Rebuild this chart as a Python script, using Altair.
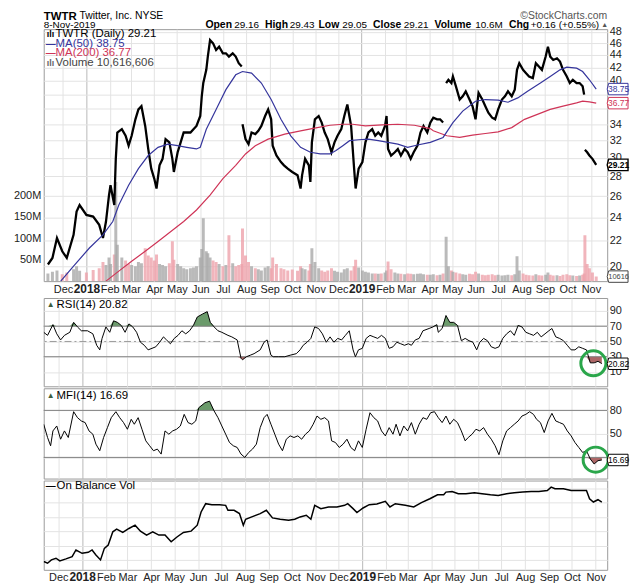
import altair as alt
import numpy as np
import pandas as pd

FONT = "Liberation Sans"
W = 568
H_MAIN, H_RSI, H_MFI, H_OBV = 254, 89, 91, 90
BASE = pd.Timestamp("2018-01-01")

# ---------------- data (x = days since 2018-01-01) ----------------
price_day_a = [-51, -45, -39, -32, -26, -17, -13, -9, 0, 9, 17, 22, 26, 30, 32, 37,
               39, 41, 47, 52, 56, 60, 65, 69, 73, 78, 82, 86, 90, 93, 97, 101,
               105, 110, 114, 116, 121, 125, 129, 133, 138, 142, 146, 151, 153, 155, 159, 161,
               164, 168, 172, 176, 181, 185, 189, 194, 198, 202, 206]
close_a = [20.15, 20.65, 22.24, 21.17, 20.65, 22.51, 24.54, 25.15, 24.24, 24.09, 23.36, 22.24, 23.65, 26.10, 27.08, 25.15,
           29.88, 32.96, 33.37, 32.56, 31.38, 32.56, 34.62, 35.92, 36.36, 33.78, 31.00, 28.80, 27.76, 26.75, 29.16, 29.88,
           32.16, 31.77, 29.88, 28.45, 30.62, 31.77, 32.96, 32.96, 32.96, 33.37, 33.78, 35.05, 37.73, 39.63, 41.63, 43.74,
           46.52, 45.95, 44.83, 45.38, 44.28, 44.28, 43.74, 44.28, 43.74, 42.67, 42.15]
vol_a = [18, 22, 25, 16, 20, 28, 35, 24, 20, 26, 30, 45, 38, 55, 40, 62,
         232, 85, 55, 48, 40, 38, 35, 45, 42, 77, 60, 55, 48, 62, 40, 38,
         35, 42, 93, 50, 40, 35, 30, 28, 30, 32, 35, 55, 75, 147, 70, 65,
         55, 48, 45, 40, 35, 38, 107, 42, 35, 38, 40]

price_day_b = [207, 211, 215, 219, 224, 228, 232, 237, 241, 245, 247, 252, 258, 262, 267, 273,
               280, 284, 286, 290, 295, 297, 299, 303, 308, 312, 316, 320, 325, 329, 333, 338,
               342, 346, 351, 355, 357, 361, 366, 370, 374, 379, 383, 387, 391, 396, 398, 400,
               404, 409, 413, 417, 422, 426, 430, 434, 439, 443, 447, 452]
close_b = [34.0, 32.16, 31.57, 32.96, 32.76, 33.17, 33.78, 35.05, 35.92, 34.62, 31.38, 30.25, 29.52, 29.16, 28.80, 28.45,
           28.10, 26.75, 28.10, 29.88, 29.16, 27.42, 31.77, 34.62, 35.05, 34.20, 32.96, 32.16, 30.62, 31.77, 32.56, 33.37,
           35.05, 36.59, 33.78, 28.80, 26.75, 28.80, 29.52, 31.77, 32.96, 33.37, 32.56, 32.96, 32.56, 33.78, 35.05, 31.00,
           30.25, 30.62, 31.00, 30.25, 31.00, 30.62, 29.88, 30.62, 31.38, 32.96, 33.78, 32.96]
vol_b = [123, 60, 45, 35, 30, 28, 25, 32, 35, 30, 55, 40, 30, 28, 25, 27,
         24, 35, 30, 28, 25, 40, 77, 45, 30, 25, 22, 25, 30, 24, 22, 20,
         28, 30, 25, 35, 50, 32, 25, 22, 20, 18, 18, 17, 18, 20, 25, 46,
         28, 20, 18, 17, 16, 18, 17, 16, 17, 18, 16, 15]

price_day_c = [456, 460, 465, 469, 473, 477, 480, 484, 486, 490, 495, 499, 503, 508, 512, 516,
               520, 525, 529, 533, 538, 542, 546, 551, 555, 559, 564, 568, 571, 574, 579, 583,
               587, 592, 596, 600, 604, 609, 612, 615, 619, 624, 628, 632, 637, 641, 645, 650,
               654, 658, 660, 661, 664, 667, 671, 676]
close_c = [34.2, 34.84, 34.62, 34.62, 34.20, 39.63, 40.12, 39.63, 40.62, 39.15, 37.27, 37.73, 38.43, 37.27, 36.36, 34.62,
           38.20, 37.27, 36.36, 35.48, 34.84, 34.62, 35.92, 37.27, 37.73, 38.43, 37.73, 38.67, 41.63, 42.67, 41.63, 41.12,
           40.62, 40.37, 42.67, 42.15, 41.63, 43.74, 45.38, 43.74, 43.20, 43.47, 42.94, 41.63, 40.62, 39.63, 40.12, 39.63,
           39.63, 39.15, 37.96, 30.9, 30.62, 30.25, 29.88, 29.21]
vol_c = [15, 16, 14, 15, 18, 104, 35, 25, 22, 20, 18, 16, 15, 17, 16, 22,
         18, 15, 14, 15, 16, 14, 15, 13, 14, 15, 14, 16, 58, 25, 18, 15,
         14, 13, 16, 14, 13, 15, 20, 15, 13, 14, 12, 15, 16, 14, 13, 12,
         13, 15, 18, 107, 40, 30, 20, 10.6]

# earnings-day price gaps (the price line is broken there)
gap_days = [207, 477, 661]

ma50_day = [-34, -17, 4, 22, 35, 43, 56, 69, 82, 95, 108, 121, 133, 146, 151, 159,
            172, 185, 198, 207, 219, 232, 245, 258, 271, 284, 297, 310, 323, 331, 340, 349,
            361, 374, 387, 400, 413, 426, 439, 456, 473, 486, 499, 516, 529, 546, 559, 572,
            585, 602, 615, 628, 637, 650, 658, 667, 676]
ma50_val = [18.94, 20.03, 21.43, 22.51, 23.65, 25.15, 27.08, 28.80, 30.25, 31.19, 31.57, 31.38, 31.19, 31.00, 31.19, 33.37,
            35.92, 38.67, 40.87, 41.37, 41.12, 39.63, 37.27, 34.62, 32.56, 31.19, 30.62, 30.43, 30.43, 30.81, 31.38, 31.97,
            32.08, 32.16, 31.97, 31.77, 31.57, 31.19, 31.46, 31.77, 32.36, 34.20, 35.70, 37.04, 37.27, 37.18, 36.90, 37.50,
            38.43, 39.63, 40.62, 41.63, 42.04, 41.90, 41.37, 40.12, 38.75]

ma200_day = [26, 43, 60, 78, 95, 112, 129, 146, 164, 181, 198, 211, 224, 241, 263, 284,
             306, 323, 340, 353, 370, 392, 413, 435, 456, 460, 478, 495, 512, 529, 546, 564,
             581, 598, 615, 632, 650, 658, 667, 676]
ma200_val = [18.94, 19.66, 20.40, 21.17, 21.96, 22.79, 23.65, 24.69, 26.10, 27.76, 29.16, 30.43, 31.38, 32.16, 32.76, 33.17,
             33.57, 33.86, 33.99, 33.99, 33.78, 33.90, 33.99, 33.86, 33.45, 33.17, 32.56, 32.36, 32.64, 32.84, 33.04, 33.57,
             34.62, 35.27, 35.92, 36.36, 36.80, 37.04, 36.94, 36.77]

rsi_day = [-50, -45, -38, -33, -28, -23, -16, -11, -6, -1, 7, 14, 19, 23, 26, 31, 36, 41, 46, 51,
           56, 61, 66, 71, 76, 81, 86, 91, 96, 101, 106, 110, 115, 120, 125, 130, 135, 140, 145, 150,
           157, 163, 167, 172, 177, 182, 190, 195, 202, 207, 209, 214, 219, 224, 232, 237, 241, 246, 249, 256,
           264, 271, 279, 284, 288, 293, 298, 303, 308, 313, 318, 323, 328, 333, 338, 343, 348, 353, 356, 360,
           365, 370, 375, 380, 385, 390, 395, 400, 405, 410, 415, 420, 425, 429, 434, 439, 444, 452, 457, 462,
           464, 469, 474, 479, 484, 489, 494, 499, 504, 509, 514, 518, 523, 528, 533, 538, 543, 548, 553, 558,
           563, 568, 573, 578, 583, 588, 593, 598, 603, 608, 612, 617, 622, 627, 632, 637, 642, 647, 652, 657,
           662, 667, 672, 677]
rsi_val = [62, 58, 72, 60, 52, 58, 62, 75, 69, 64, 64, 60, 45, 39, 54, 69, 62, 77, 75, 71,
           62, 73, 69, 62, 49, 45, 39, 41, 43, 49, 56, 52, 47, 54, 58, 64, 60, 64, 71, 82,
           86, 89, 75, 69, 64, 62, 58, 56, 52, 28, 26, 30, 32, 34, 39, 49, 52, 32, 30, 30,
           30, 32, 34, 39, 45, 49, 54, 69, 67, 60, 49, 56, 49, 54, 52, 58, 64, 39, 30, 39,
           41, 54, 58, 56, 54, 58, 54, 41, 43, 49, 47, 45, 47, 45, 52, 54, 64, 67, 69, 72,
           62, 67, 84, 75, 75, 71, 51, 54, 51, 49, 39, 49, 54, 51, 43, 41, 43, 54, 60, 64,
           58, 71, 69, 62, 60, 58, 62, 56, 60, 64, 67, 56, 54, 51, 45, 39, 39, 43, 41, 39,
           22, 22, 24, 21]
rsi_levels = [70, 30]
rsi_mid = [50]
rsi_last = 20.82
rsi_ring_day, rsi_ring_val = [666], [21.4]

mfi_day = [-50, -45, -41, -38, -33, -28, -23, -18, -11, -6, -1, 4, 9, 14, 18, 23, 28, 33, 38, 44,
           49, 54, 59, 64, 68, 73, 78, 83, 88, 93, 98, 103, 108, 113, 118, 123, 128, 133, 138, 143,
           148, 152, 160, 166, 172, 177, 182, 187, 192, 197, 202, 207, 212, 217, 222, 227, 232, 237, 241, 246,
           251, 256, 261, 266, 271, 276, 281, 286, 291, 296, 301, 306, 311, 316, 321, 325, 330, 335, 340, 345,
           350, 355, 360, 365, 370, 375, 380, 385, 390, 395, 400, 405, 409, 414, 419, 424, 429, 434, 439, 444,
           449, 454, 459, 464, 469, 474, 479, 484, 489, 494, 499, 503, 508, 513, 518, 523, 528, 533, 538, 543,
           548, 553, 558, 563, 568, 573, 578, 583, 588, 592, 597, 602, 607, 612, 617, 622, 627, 632, 637, 642,
           647, 652, 657, 662, 667, 672, 677]
mfi_val = [62.3, 45.4, 34.8, 53.8, 60.1, 43.2, 53.8, 45.4, 78.3, 70.7, 66.5, 64.4, 53.8, 49.6, 36.9, 28.5, 45.4, 58, 70.7, 78.3,
           70.7, 64.4, 55.9, 68.6, 62.3, 70.7, 55.9, 41.1, 34.8, 28.5, 30.6, 24.2, 53.8, 49.6, 53.8, 55.9, 60.1, 74.9, 64.4, 62.3,
           66.5, 83.4, 89.7, 91.8, 79.2, 70.7, 60.1, 49.6, 39, 34.8, 32.7, 24.2, 20, 26.3, 30.6, 36.9, 58, 70.7, 74.9, 62.3,
           49.6, 36.9, 28.5, 43.2, 47.5, 45.4, 47.5, 43.2, 49.6, 53.8, 62.3, 72.8, 68.6, 70.7, 66.5, 41.1, 39, 32.7, 36.9, 43.2,
           32.7, 28.5, 41.1, 32.7, 55.9, 77, 70.7, 66.5, 53.8, 47.5, 58, 49.6, 62.3, 47.5, 60.1, 53.8, 64.4, 49.6, 62.3, 70.7,
           68.6, 77, 78.3, 70.7, 64.4, 72.8, 62.3, 68.6, 64.4, 53.8, 41.1, 45.4, 49.6, 55.9, 53.8, 58, 49.6, 43.2, 34.8, 23.4,
           41.1, 53.8, 58, 62.3, 66.5, 72.8, 74.9, 78.3, 74.9, 68.6, 64.4, 51.7, 66.5, 76.2, 66.5, 64.4, 62.3, 53.8, 47.5, 39,
           32.7, 26.3, 28.5, 17.9, 11.6, 15.8, 16.7]
mfi_levels = [80, 20]
mfi_last = 16.69
mfi_ring_day, mfi_ring_val = [669], [17.1]

obv_day = [-50, -45, -40, -34, -29, -21, -13, -8, 0, 8, 13, 18, 24, 29, 34, 40, 45, 53, 61, 69,
           76, 84, 92, 100, 108, 116, 124, 132, 142, 150, 155, 161, 169, 179, 187, 190, 198, 205, 210, 213,
           221, 232, 240, 248, 258, 269, 277, 284, 292, 298, 303, 311, 321, 332, 342, 346, 353, 358, 366, 374,
           384, 395, 401, 408, 421, 432, 442, 453, 463, 471, 474, 482, 490, 500, 511, 521, 532, 542, 553, 563,
           574, 585, 595, 606, 611, 616, 627, 637, 648, 657, 661, 666, 672, 677]
obv_val = [120, 105, 135, 150, 126, 144, 165, 225, 195, 204, 225, 180, 135, 240, 270, 390, 414, 384, 420, 450,
           396, 360, 390, 360, 360, 300, 345, 384, 396, 450, 570, 645, 636, 636, 630, 585, 585, 555, 450, 504,
           525, 555, 585, 516, 504, 495, 504, 525, 540, 504, 630, 600, 615, 615, 630, 645, 600, 564, 606, 636,
           642, 666, 615, 645, 630, 615, 654, 690, 726, 726, 750, 756, 735, 735, 744, 735, 726, 720, 735, 744,
           750, 756, 756, 765, 795, 780, 780, 765, 765, 765, 690, 660, 681, 660]

price_ticks = list(range(20, 50, 2))
vol_ticks = [50, 100, 150, 200]
vol_last = 10.616606

# ---------------- frames ----------------
def dates(days):
    return [(BASE + pd.Timedelta(days=int(d))).strftime("%Y-%m-%d") for d in days]

all_days = price_day_a + price_day_b + price_day_c
price_df = pd.DataFrame({
    "date": dates(all_days),
    "close": close_a + close_b + close_c,
    "vol": vol_a + vol_b + vol_c,
})
price_df["dir"] = np.where(price_df["close"].diff().fillna(0) >= 0, "up", "down")
price_df["seg"] = np.cumsum([1 if d in gap_days else 0 for d in all_days])
ma50_df = pd.DataFrame({"date": dates(ma50_day), "v": ma50_val})
ma200_df = pd.DataFrame({"date": dates(ma200_day), "v": ma200_val})
rsi_df = pd.DataFrame({"date": dates(rsi_day), "v": rsi_val})
rsi_df["hi"] = rsi_df["v"].clip(lower=70)
rsi_df["lo"] = rsi_df["v"].clip(upper=30)
mfi_df = pd.DataFrame({"date": dates(mfi_day), "v": mfi_val})
mfi_df["hi"] = mfi_df["v"].clip(lower=80)
mfi_df["lo"] = mfi_df["v"].clip(upper=20)
obv_df = pd.DataFrame({"date": dates(obv_day), "v": obv_val})
ONE = pd.DataFrame({"k": [0]})

# ---------------- scales / axes ----------------
xscale = alt.Scale(domain=[alt.DateTime(year=2017, month=11, date=12),
                           alt.DateTime(year=2019, month=11, date=16)], nice=False)
month_ticks = [alt.DateTime(year=2017, month=12, date=1)] + \
    [alt.DateTime(year=2018, month=m, date=1) for m in range(1, 13)] + \
    [alt.DateTime(year=2019, month=m, date=1) for m in range(1, 12)]
IS_JAN = "month(datum.value) == 0"
GRID = "#e3e3e3"


def x_axis(show):
    kw = dict(values=month_ticks, grid=True, ticks=False, domain=False, title=None,
              gridColor={"condition": {"test": IS_JAN, "value": "#b8b8b8"}, "value": GRID})
    if show:
        kw.update(labels=True,
                  labelExpr="month(datum.value) == 0 ? timeFormat(datum.value, '%Y') : timeFormat(datum.value, '%b')",
                  labelFontWeight={"condition": {"test": IS_JAN, "value": "bold"}, "value": "normal"},
                  labelFontSize={"condition": {"test": IS_JAN, "value": 12}, "value": 11},
                  labelOverlap=False, labelFlush=False, labelPadding=2, labelColor="#222",
                  minExtent=15, maxExtent=15)
    else:
        kw.update(labels=False, minExtent=0, maxExtent=0)
    return alt.Axis(**kw)


X_LAB = alt.X("date:T", scale=xscale, axis=x_axis(True))
X_NOLAB = alt.X("date:T", scale=xscale, axis=x_axis(False))

BOX = "M -1 0 L -0.86 -0.55 L 1 -0.55 L 1 0.55 L -0.86 0.55 Z"
BOXW = 21


def txt(s, x, y, size=11, color="#000", weight="normal", align="left", baseline="alphabetic", font=FONT):
    return alt.Chart(ONE).mark_text(text=s, fontSize=size, color=color, fontWeight=weight, align=align,
                                    baseline=baseline, font=font).encode(x=alt.value(x), y=alt.value(y))


def value_box(value, label, color, scale, axis, bold=False, size=8.5, sw=1):
    d = pd.DataFrame({"v": [value], "t": [label]})
    y = alt.Y("v:Q", scale=scale, axis=axis)
    box = alt.Chart(d).mark_point(shape=BOX, size=BOXW * BOXW, filled=True, fill="white", stroke=color,
                                  strokeWidth=sw, opacity=1, fillOpacity=1).encode(x=alt.value(W + BOXW / 2), y=y)
    t = alt.Chart(d).mark_text(fontSize=size, color=color, fontWeight="bold" if bold else "normal",
                               font=FONT).encode(x=alt.value(W + BOXW / 2 + 1), y=y, text="t:N")
    return [box, t]


# ---------------- main panel ----------------
vol_scale = alt.Scale(domain=[0, 589], nice=False)
vol_axis = alt.Axis(orient="left", values=vol_ticks, labelExpr="datum.value + 'M'", grid=False, ticks=False,
                    domain=False, labelPadding=3, labelFontSize=11, labelColor="#222",
                    minExtent=35, maxExtent=35, title=None)
price_scale = alt.Scale(type="log", domain=[18.94, 48.45], nice=False)
price_axis = alt.Axis(orient="right", values=price_ticks, grid=True, gridColor=GRID, ticks=False, domain=False,
                      labelExpr="datum.value == 36 || datum.value == 38 ? '' : datum.label",
                      labelPadding=2, labelFontSize=11, labelColor="#222", labelOverlap=False, format="d", title=None)

NAVY = "#35359c"
CRIMSON = "#cf3457"

vol_bars = alt.Chart(price_df).mark_bar(width=3, clip=True, opacity=0.8).encode(
    x=X_LAB, y=alt.Y("vol:Q", scale=vol_scale, axis=vol_axis),
    color=alt.Color("dir:N", scale=alt.Scale(domain=["up", "down"], range=["#a9a9a9", "#eea3ab"]), legend=None))
vol_layer = alt.layer(vol_bars, *value_box(vol_last, "10616", "#444", vol_scale, vol_axis, size=7.5))

price_line = alt.Chart(price_df).mark_line(color="black", strokeWidth=2.3, clip=True).encode(
    x=X_LAB, y=alt.Y("close:Q", scale=price_scale, axis=price_axis), detail="seg:N")
ma200_line = alt.Chart(ma200_df).mark_line(color=CRIMSON, strokeWidth=1.2, clip=True).encode(
    x=X_LAB, y=alt.Y("v:Q", scale=price_scale, axis=price_axis))
ma50_line = alt.Chart(ma50_df).mark_line(color=NAVY, strokeWidth=1.2, clip=True).encode(
    x=X_LAB, y=alt.Y("v:Q", scale=price_scale, axis=price_axis))
price_layer = alt.layer(
    price_line, ma200_line, ma50_line,
    *value_box(ma50_val[-1], f"{ma50_val[-1]:.2f}", NAVY, price_scale, price_axis),
    *value_box(ma200_val[-1], f"{ma200_val[-1]:.2f}", CRIMSON, price_scale, price_axis),
    *value_box(close_c[-1], f"{close_c[-1]:.2f}", "#000", price_scale, price_axis, bold=True, sw=1.4),
)

hdr_y = -1.5
header = [
    txt("TWTR", 0, -18, 11.5, weight="bold", baseline="top"),
    txt("Twitter, Inc. NYSE", 36, -18, 10.5, baseline="top"),
    txt("\u00a9StockCharts.com", W, -18, 10.5, "#555", align="right", baseline="top"),
    txt("8-Nov-2019", 0, hdr_y, 10),
    txt("Open", 163, hdr_y, 10.5, weight="bold"), txt("29.16", 192, hdr_y, 10),
    txt("High", 223, hdr_y, 10.5, weight="bold"), txt("29.43", 248, hdr_y, 10),
    txt("Low", 277, hdr_y, 10.5, weight="bold"), txt("29.05", 301, hdr_y, 10),
    txt("Close", 332, hdr_y, 10.5, weight="bold"), txt("29.21", 363, hdr_y, 10),
    txt("Volume", 394, hdr_y, 10.5, weight="bold"), txt("10.6M", 435, hdr_y, 10),
    txt("Chg", 469, hdr_y, 10.5, weight="bold"), txt("+0.16 (+0.55%)", 491, hdr_y, 10),
    txt("\u25b2", 562, hdr_y - 1, 7, "#555"),
]
legend = [
    txt("\u0131l\u0131", 3, 5, 9, weight="bold", baseline="middle"),
    txt(f"TWTR (Daily) {close_c[-1]:.2f}", 12, 5, 11.5, baseline="middle"),
    txt("\u2014", 2, 14.7, 10, NAVY, "bold", baseline="middle"),
    txt(f"MA(50) {ma50_val[-1]:.2f}", 12, 14.7, 11.5, NAVY, baseline="middle"),
    txt("\u2014", 2, 24.3, 10, CRIMSON, "bold", baseline="middle"),
    txt(f"MA(200) {ma200_val[-1]:.2f}", 12, 24.3, 11.5, CRIMSON, baseline="middle"),
    txt("\u0131l\u0131", 3, 33.7, 9, "#666", "bold", baseline="middle"),
    txt("Volume 10,616,606", 12, 33.7, 11.5, "#444", baseline="middle"),
]
main = alt.layer(vol_layer, price_layer, *header, *legend).resolve_scale(y="independent").properties(
    width=W, height=H_MAIN)


# ---------------- oscillator panels ----------------
def oscillator(df, scale, axis, levels, mid, last, ring_day, ring_val, title, height, lo_lvl, hi_lvl):
    Y = lambda f: alt.Y(f, scale=scale, axis=axis)
    layers = [
        alt.Chart(df).mark_area(color="#6b9b6b", clip=True, opacity=1).encode(x=X_NOLAB, y=Y("hi:Q"), y2=alt.datum(hi_lvl)),
        alt.Chart(df).mark_area(color="#ad6767", clip=True, opacity=1).encode(x=X_NOLAB, y=Y("lo:Q"), y2=alt.datum(lo_lvl)),
        alt.Chart(pd.DataFrame({"lvl": levels})).mark_rule(color="#808080").encode(y=Y("lvl:Q")),
    ]
    if mid:
        layers.append(alt.Chart(pd.DataFrame({"lvl": mid})).mark_rule(color="#9a9a9a", strokeDash=[7, 3, 2, 3]).encode(y=Y("lvl:Q")))
    layers.append(alt.Chart(df).mark_line(color="black", strokeWidth=1, clip=True).encode(x=X_NOLAB, y=Y("v:Q")))
    ring = pd.DataFrame({"date": dates(ring_day), "v": ring_val})
    layers.append(alt.Chart(ring).mark_point(shape="circle", size=640, filled=False, stroke="#2aa64a",
                                              strokeWidth=3, opacity=1).encode(x=X_NOLAB, y=Y("v:Q")))
    layers += value_box(last, f"{last:.2f}", "#000", scale, axis)
    layers.append(txt("\u25b2", 3, title[1], 8, "#3d5d3d", baseline="middle"))
    layers.append(txt(title[0], 13, title[1], 11.5, baseline="middle"))
    return alt.layer(*layers).properties(width=W, height=height)


rsi_scale = alt.Scale(domain=[-8.7, 106.9], nice=False, zero=False)
rsi_axis = alt.Axis(orient="right", values=[10, 30, 50, 70, 90], grid=True, gridColor=GRID, ticks=False,
                    domain=False, labelPadding=2, labelFontSize=11, labelColor="#222", labelOverlap=False, title=None)
rsi = oscillator(rsi_df, rsi_scale, rsi_axis, rsi_levels, rsi_mid, rsi_last, rsi_ring_day, rsi_ring_val,
                 (f"RSI(14) {rsi_last:.2f}", 7), H_RSI, 30, 70)

mfi_scale = alt.Scale(domain=[-7, 108.2], nice=False, zero=False)
mfi_axis = alt.Axis(orient="right", values=[20, 50, 80], grid=True, gridColor=GRID, ticks=False,
                    labelExpr="datum.value == 20 ? '' : datum.label", labelOverlap=False,
                    domain=False, labelPadding=2, labelFontSize=11, labelColor="#222", title=None)
mfi = oscillator(mfi_df, mfi_scale, mfi_axis, mfi_levels, None, mfi_last, mfi_ring_day, mfi_ring_val,
                 (f"MFI(14) {mfi_last:.2f}", 8), H_MFI, 20, 80)

obv_scale = alt.Scale(domain=[45, 855], nice=False, zero=False)
obv_axis = alt.Axis(orient="right", values=[135, 265, 395, 525, 655, 785], labels=False, grid=True, gridColor=GRID,
                    ticks=False, domain=False, title=None, minExtent=0, maxExtent=0)
obv = alt.layer(
    alt.Chart(obv_df).mark_line(color="black", strokeWidth=1.5, clip=True).encode(
        x=X_LAB, y=alt.Y("v:Q", scale=obv_scale, axis=obv_axis)),
    txt("\u2014", 2, 6, 10, "#000", "bold", baseline="middle"),
    txt("On Balance Vol", 13, 6, 11.5, baseline="middle"),
).properties(width=W, height=H_OBV)

chart = alt.vconcat(main, rsi, mfi, obv, spacing=0).properties(
    padding={"left": 0, "right": 0, "top": 0, "bottom": 0}, background="white"
).configure_view(stroke="#9a9a9a").configure_axis(labelFont=FONT)

chart.save("out.html", embed_options={"renderer": "svg", "actions": False})
